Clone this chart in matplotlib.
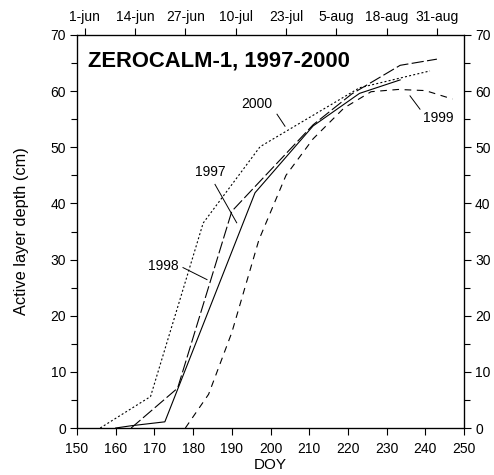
import matplotlib
matplotlib.use("Agg")
import matplotlib.pyplot as plt

plt.rcParams['font.family'] = ['Liberation Sans', 'DejaVu Sans']

# data
doy_1997 = [160, 164, 172.7, 196, 211, 223, 233.5]
dep_1997 = [0, 0.4, 1.1, 41.9, 53.8, 59.6, 62.0]

doy_1998 = [164, 176, 190, 211, 221, 233.5, 243]
dep_1998 = [0, 7.1, 38.6, 54.0, 59.5, 64.6, 65.7]

doy_1999 = [178, 184, 190, 197, 204, 211, 219, 226, 233, 240, 247]
dep_1999 = [0, 6.0, 17.0, 33.5, 45.0, 51.5, 57.0, 59.9, 60.3, 60.1, 58.6]

doy_2000 = [156, 169, 182.6, 197.3, 223, 241.2]
dep_2000 = [0, 5.6, 36.5, 50.1, 60.6, 63.6]

top_tick_doy = [152, 165, 178, 191, 204, 217, 230, 243]
top_tick_labels = ['1-jun', '14-jun', '27-jun', '10-jul', '23-jul', '5-aug', '18-aug', '31-aug']

title = 'ZEROCALM-1, 1997-2000'

fig = plt.figure(figsize=(4.94, 4.75), dpi=100)
ax = fig.add_axes([77/494, 47/475, (464-77)/494, (428-35)/475])

lw = 0.8
ax.plot(doy_1997, dep_1997, color='black', lw=lw, ls='-')
ax.plot(doy_1998, dep_1998, color='black', lw=lw, ls=(0, (11, 3)))
ax.plot(doy_1999, dep_1999, color='black', lw=lw, ls=(0, (6, 5)))
ax.plot(doy_2000, dep_2000, color='black', lw=lw, ls=(0, (1.8, 2)))

ax.set_xlim(150, 250)
ax.set_ylim(0, 70)
ax.set_xticks(range(150, 251, 10))
ax.set_yticks(range(0, 71, 10))
ax.set_yticks(range(5, 70, 10), minor=True)
ax.tick_params(axis='both', which='major', direction='out', length=5, width=0.8,
               labelsize=10)
ax.tick_params(axis='x', which='major', pad=5)
ax.tick_params(axis='y', which='major', pad=3)
ax.tick_params(axis='y', which='both', right=True, labelright=True)
ax.tick_params(axis='y', which='minor', direction='out', length=4, width=0.8)
for s in ax.spines.values():
    s.set_linewidth(0.9)

ax.set_xlabel('DOY', fontsize=11, labelpad=1.5)
ax.set_ylabel('Active layer depth (cm)', fontsize=11.8, labelpad=15)

top = ax.twiny()
top.set_xlim(ax.get_xlim())
top.set_xticks(top_tick_doy)
top.set_xticklabels(top_tick_labels)
top.tick_params(axis='x', direction='out', length=5, width=0.8, labelsize=10, pad=3)

ax.text(152.8, 65.4, title, fontsize=15.8, fontweight='bold', ha='left', va='center')

def d2(px, py):
    return 150 + (px - 77) / 3.87, (428 - py) / 5.6

ann = [
    ('2000', (256.7, 105), (277, 115), (285, 127)),
    ('1997', (210, 173), (215, 185), (236.7, 223.3)),
    ('1998', (163.3, 266), (183, 268), (207, 280)),
    ('1999', (438.3, 118.3), (410, 96.7), (420, 110)),
]
for lab, tp, p0, p1 in ann:
    tx, ty = d2(*tp)
    ax.text(tx, ty, lab, fontsize=10, ha='center', va='center')
    x0, y0 = d2(*p0)
    x1, y1 = d2(*p1)
    ax.plot([x0, x1], [y0, y1], color='black', lw=0.7)

fig.savefig('out.png', dpi=100)
